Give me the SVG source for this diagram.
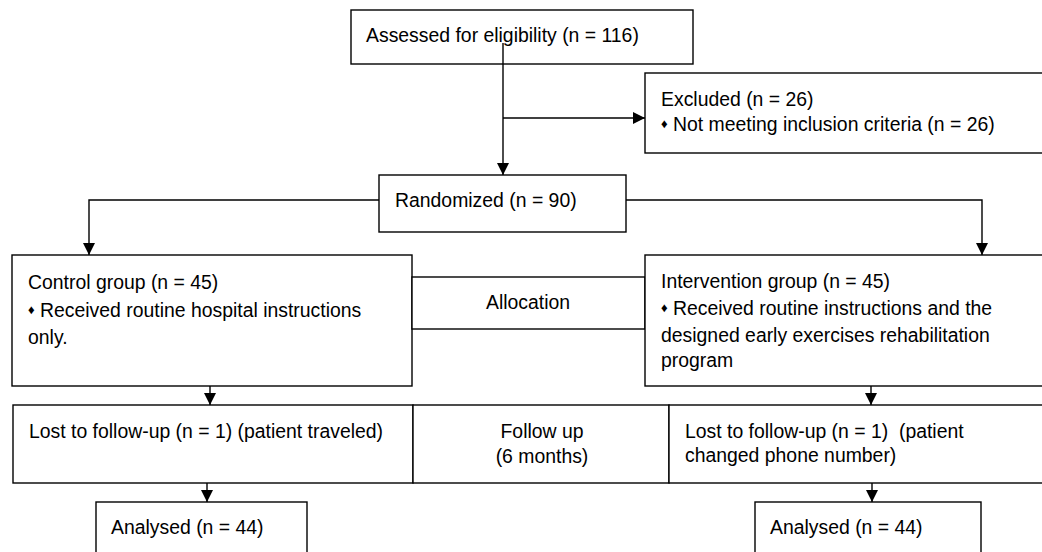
<svg xmlns="http://www.w3.org/2000/svg" width="1042" height="552" viewBox="0 0 1042 552">
<defs>
<marker id="arr" markerUnits="userSpaceOnUse" markerWidth="12" markerHeight="12" viewBox="0 0 12 12" refX="12" refY="6" orient="auto">
<path d="M0,0 L12,6 L0,12 Z" fill="#000"/>
</marker>
<style>
.box{fill:#fff;stroke:#000;stroke-width:1.4}
.ln{fill:none;stroke:#000;stroke-width:1.4}
.ar{fill:none;stroke:#000;stroke-width:1.4;marker-end:url(#arr)}
text{font-family:"Liberation Sans",Arial,sans-serif;font-size:19.4px;fill:#000;white-space:pre}
.b{font-size:13px;baseline-shift:3px}
.c{text-anchor:middle}
</style>
</defs>
<rect width="1042" height="552" fill="#fff"/>
<g id="assessed"><rect class="box" x="351" y="10" width="342" height="54"/><text x="366" y="42">Assessed for eligibility (n = 116)</text></g>
<g id="excluded"><rect class="box" x="645" y="73" width="402" height="80"/><text x="661" y="106">Excluded (n = 26)</text><text x="661" y="131"><tspan class="b">♦</tspan> Not meeting inclusion criteria (n = 26)</text></g>
<g id="randomized"><rect class="box" x="379" y="175" width="247" height="57"/><text x="395" y="207">Randomized (n = 90)</text></g>
<g id="control"><rect class="box" x="12" y="255" width="400" height="131"/><text x="28" y="289">Control group (n = 45)</text><text x="28" y="317"><tspan class="b">♦</tspan> Received routine hospital instructions</text><text x="28" y="344">only.</text></g>
<g id="allocation"><rect class="box" x="412" y="277" width="233" height="52"/><text class="c" x="528" y="309">Allocation</text></g>
<g id="intervention"><rect class="box" x="645" y="255" width="402" height="131"/><text x="661" y="288">Intervention group (n = 45)</text><text x="661" y="315"><tspan class="b">♦</tspan> Received routine instructions and the</text><text x="661" y="342">designed early exercises rehabilitation</text><text x="661" y="367">program</text></g>
<g id="lost-control"><rect class="box" x="13" y="405" width="400" height="78"/><text x="29" y="438">Lost to follow-up (n = 1) (patient traveled)</text></g>
<g id="followup"><rect class="box" x="413" y="405" width="256" height="78"/><text class="c" x="542" y="438">Follow up</text><text class="c" x="542" y="463">(6 months)</text></g>
<g id="lost-intervention"><rect class="box" x="669" y="405" width="378" height="78"/><text x="685" y="438">Lost to follow-up (n = 1)  (patient</text><text x="685" y="462">changed phone number)</text></g>
<g id="analysed-control"><rect class="box" x="96" y="502" width="211" height="60"/><text x="111" y="534">Analysed (n = 44)</text></g>
<g id="analysed-intervention"><rect class="box" x="755" y="502" width="226" height="60"/><text x="770" y="534">Analysed (n = 44)</text></g>
<g id="connectors">
<path class="ar" d="M503,43 V175"/>
<path class="ar" d="M503,118 H645"/>
<path class="ar" d="M379,200 H89 V255"/>
<path class="ar" d="M626,200 H982 V255"/>
<path class="ar" d="M210,386 V405"/>
<path class="ar" d="M871,386 V405"/>
<path class="ar" d="M207,483 V502"/>
<path class="ar" d="M872,483 V502"/>
</g>
</svg>
